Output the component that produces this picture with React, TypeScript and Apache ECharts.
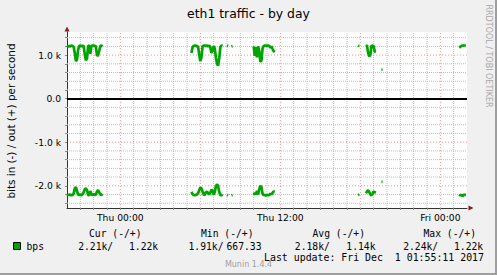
import React, { useEffect, useRef } from 'react';
import * as echarts from 'echarts';

// ---- data (hours relative to Thu 00:00, 5-minute samples, bits per second) ----
const STEP = 5 / 60;

const segStarts = [-4, 5 + 20 / 60, 8, 8 + 20 / 60, 10, 17 + 50 / 60, 18 + 25 / 60, 19 + 35 / 60, 25 + 25 / 60];

const outA = [1180, 1200, 1210, 1200, 1220, 1210, 1190, 1050, 860, 900, 1120, 1210, 1220, 1200, 1220, 1200, 1020, 880, 920, 1210, 1220, 1030, 1210, 1220, 1220, 1210, 1200, 980, 1000, 1100, 1210, 1220, 1200];
const inA = [-2200, -2210, -2210, -2200, -2220, -2210, -2180, -2060, -2030, -2120, -2200, -2210, -2200, -2220, -2190, -2150, -2080, -2060, -2100, -2210, -2220, -2120, -2200, -2210, -2190, -2210, -2200, -2130, -2100, -2150, -2200, -2210, -2190];
const outB = [1050, 1180, 1210, 1220, 1220, 1200, 1190, 1000, 860, 950, 1200, 1220, 1220, 1210, 1220, 1200, 1220, 1180, 1050, 1100, 1210, 1150, 950, 800, 760, 920, 1180, 1220, 1210];
const inB = [-2140, -2190, -2210, -2220, -2210, -2200, -2170, -2100, -2040, -2060, -2130, -2200, -2210, -2150, -2130, -2170, -2200, -2160, -2090, -2120, -2200, -2140, -2020, -1970, -2000, -2140, -2210, -2220, -2200];
const outDot1 = [1220, 1210];
const inDot1 = [-2210, -2220];
const outDot2 = [1200, 1210];
const inDot2 = [-2220, -2210];
const outC = [1200, 980, 1180, 950, 1200, 1100, 850, 870, 1150, 1210, 1220, 1220, 1210, 1220, 1210, 1170, 1200, 1140, 1090, 1070];
const inC = [-2210, -2160, -2200, -2120, -2200, -2080, -2000, -2030, -2180, -2220, -2210, -2230, -2210, -2220, -2210, -2180, -2200, -2160, -2130, -2140];
const outD = [1220, 1210];
const inD = [-2210, -2200];
const outE = [1210, 1220, 1050, 970, 1000, 1210, 1220, 1200, 1080, 1070];
const inE = [-2170, -2130, -2100, -2140, -2200, -2220, -2180, -2130, -2150, -2160];
const outDot3 = [667.33, 667.33];
const inDot3 = [-1910, -1910];
const outF = [1170, 1190, 1210, 1220, 1220, 1220, 1220];
const inF = [-2200, -2220, -2210, -2240, -2210, -2210, -2210];

const outSegments = [outA, outB, outDot1, outDot2, outC, outD, outE, outDot3, outF];
const inSegments = [inA, inB, inDot1, inDot2, inC, inD, inE, inDot3, inF];

// ---- axes ----
const X_MIN = -4;
const X_MAX = 26;
const Y_MIN = -2510;
const Y_MAX = 1530;
const xLabels: Record<number, string> = { 0: 'Thu 00:00', 12: 'Thu 12:00', 24: 'Fri 00:00' };
const xMajor = [0, 6, 12, 18, 24];
const xMinor = [-3, -2, -1, 1, 2, 3, 4, 5, 7, 8, 9, 10, 11, 13, 14, 15, 16, 17, 19, 20, 21, 22, 23, 25];
const yLabelValues = [-2000, -1000, 0, 1000];
const yMajor = [-2000, -1000, 1000];
const yMinor = [-2400, -2200, -1800, -1600, -1400, -1200, -800, -600, -400, -200, 200, 400, 600, 800, 1200, 1400];

// ---- legend ----
const seriesName = 'bps';
const statHeaders = ['Cur (-/+)', 'Min (-/+)', 'Avg (-/+)', 'Max (-/+)'];
const statIn = ['2.21k', '1.91k', '2.18k', '2.24k'];
const statOut = ['1.22k', '667.33', '1.14k', '1.22k'];
const lastUpdate = 'Last update: Fri Dec\u00a0\u00a01 01:55:11 2017';

const GREEN = '#00a600';
const SANS = 'DejaVu Sans';
const MONO = 'DejaVu Sans Mono';

function build(segs: number[][]) {
  const data: any[] = [];
  segs.forEach((vals, k) => {
    const t0 = segStarts[k];
    vals.forEach((v, i) => data.push([t0 + i * STEP, v]));
    data.push([t0 + vals.length * STEP, '-']);
  });
  return data;
}

function gridPath(xs: number[], ys: number[]) {
  const data: any[] = [];
  xs.forEach((x) => {
    data.push([x, Y_MIN], [x, Y_MAX], [x, '-']);
  });
  ys.forEach((y) => {
    data.push([X_MIN, y], [X_MAX, y], [X_MAX, '-']);
  });
  return data;
}

function fmtY(v: number) {
  if (v === 0) return '0.0';
  return (v / 1000).toFixed(1) + ' k';
}

const gridColor = '#bdbdbd';
const majorColor = '#ff0000';

const headerX = [89, 201, 312.5, 423.5];
const inLeftX = [78.2, 188.5, 294.8, 403.2];
const outRightX = [158.2, 261.5, 375.5, 483.2];

const graphics: any[] = [
  { type: 'rect', shape: { x: 0, y: 273, width: 497, height: 2 }, style: { fill: '#9e9e9e' }, silent: true },
  { type: 'rect', shape: { x: 495, y: 0, width: 2, height: 275 }, style: { fill: '#9e9e9e' }, silent: true },
  { type: 'polygon', shape: { points: [[64.5, 31.5], [69.5, 31.5], [67, 26.5]] }, style: { fill: '#7f1f1f' }, silent: true, z: 10 },
  { type: 'polygon', shape: { points: [[468.5, 205.5], [468.5, 210.5], [473.5, 208]] }, style: { fill: '#7f1f1f' }, silent: true, z: 10 },
  {
    type: 'text', x: 11, y: 121, rotation: Math.PI / 2,
    style: { text: 'bits in (-) / out (+) per second', fontFamily: SANS, fontSize: 10.4, fill: '#000', align: 'center', verticalAlign: 'middle' },
  },
  {
    type: 'text', x: 488.5, y: 56, rotation: -Math.PI / 2,
    style: { text: 'RRDTOOL / TOBI OETIKER', fontFamily: SANS, fontSize: 8, fill: '#a8a8a8', align: 'center', verticalAlign: 'middle' },
  },
  { type: 'rect', shape: { x: 13.5, y: 242.5, width: 7, height: 7 }, style: { fill: GREEN, stroke: '#000', lineWidth: 1 } },
  {
    type: 'text', x: 26.5, y: 246,
    style: { text: seriesName, fontFamily: MONO, fontSize: 9.7, fill: '#000', align: 'left', verticalAlign: 'middle' },
  },
  ...statHeaders.map((h, i) => ({
    type: 'text', x: headerX[i], y: 233.2,
    style: { text: h, fontFamily: MONO, fontSize: 9.7, fill: '#000', align: 'left', verticalAlign: 'middle' },
  })),
  ...statIn.map((v, i) => ({
    type: 'text', x: inLeftX[i], y: 246,
    style: { text: v + '/', fontFamily: MONO, fontSize: 9.7, fill: '#000', align: 'left', verticalAlign: 'middle' },
  })),
  ...statOut.map((v, i) => ({
    type: 'text', x: outRightX[i], y: 246,
    style: { text: v, fontFamily: MONO, fontSize: 9.7, fill: '#000', align: 'right', verticalAlign: 'middle' },
  })),
  {
    type: 'text', x: 484, y: 257.6,
    style: { text: lastUpdate, fontFamily: MONO, fontSize: 9.9, fill: '#000', align: 'right', verticalAlign: 'middle' },
  },
  {
    type: 'text', x: 248.5, y: 264.5,
    style: { text: 'Munin 1.4.4', fontFamily: SANS, fontSize: 8, fill: '#a0a0a0', align: 'center', verticalAlign: 'middle' },
  },
];

const markBase = { silent: true, symbol: ['none', 'none'], label: { show: false }, emphasis: { disabled: true }, animation: false };

export default function App() {
  const ref = useRef<HTMLDivElement>(null);
  useEffect(() => {
    const chart = echarts.init(ref.current!, null, { renderer: 'svg' });
    chart.setOption({
      animation: false,
      backgroundColor: '#f0f0f0',
      title: {
        text: 'eth1 traffic - by day',
        left: 'center',
        top: 7,
        padding: 0,
        textStyle: { fontFamily: SANS, fontSize: 12.4, fontWeight: 'normal', color: '#000' },
      },
      grid: { left: 67, top: 32, width: 400, height: 176, show: true, backgroundColor: '#ffffff', borderWidth: 0 },
      xAxis: {
        type: 'value',
        min: X_MIN,
        max: X_MAX,
        interval: 1,
        axisLine: { show: true, onZero: false, lineStyle: { color: '#333', width: 1 } },
        axisTick: { show: true, length: 2, lineStyle: { color: '#888' } },
        splitLine: { show: false },
        axisLabel: {
          margin: 5,
          fontFamily: SANS,
          fontSize: 9.2,
          color: '#000',
          showMinLabel: false,
          showMaxLabel: false,
          formatter: (v: number) => xLabels[v] ?? '',
        },
      },
      yAxis: {
        type: 'value',
        min: Y_MIN,
        max: Y_MAX,
        axisLine: { show: true, onZero: false, lineStyle: { color: '#333', width: 1 } },
        axisTick: { show: true, length: 2, customValues: [...yMinor, ...yMajor, 0], lineStyle: { color: '#888' } },
        splitLine: { show: false },
        axisLabel: {
          margin: 6,
          fontFamily: SANS,
          fontSize: 9.2,
          color: '#000',
          customValues: yLabelValues,
          formatter: (v: number) => fmtY(v),
        },
      },
      graphic: graphics,
      series: [
        {
          name: 'minorGrid',
          type: 'line',
          data: gridPath(xMinor, yMinor),
          z: 1,
          silent: true,
          showSymbol: false,
          connectNulls: false,
          lineStyle: { color: gridColor, type: [1, 1], width: 1 },
          itemStyle: { color: gridColor },
        },
        {
          name: 'majorGrid',
          type: 'line',
          data: gridPath(xMajor, yMajor),
          z: 2,
          silent: true,
          showSymbol: false,
          connectNulls: false,
          lineStyle: { color: majorColor, type: [1, 2], width: 1, opacity: 0.45 },
          itemStyle: { color: majorColor },
        },
        {
          name: 'out',
          type: 'line',
          data: build(outSegments),
          showSymbol: false,
          connectNulls: false,
          z: 3,
          lineStyle: { color: GREEN, width: 2.7 },
          itemStyle: { color: GREEN },
        },
        {
          name: 'in',
          type: 'line',
          data: build(inSegments),
          showSymbol: false,
          connectNulls: false,
          z: 3,
          lineStyle: { color: GREEN, width: 2.7 },
          itemStyle: { color: GREEN },
        },
        {
          name: 'zero',
          type: 'line',
          data: [],
          z: 4,
          silent: true,
          markLine: {
            ...markBase,
            lineStyle: { color: '#000', type: 'solid', width: 2 },
            data: [{ yAxis: 0 }],
          },
        },
      ],
    });
    return () => chart.dispose();
  }, []);
  return <div ref={ref} style={{ position: 'fixed', left: 0, top: 0, width: 497, height: 275 }} />;
}
